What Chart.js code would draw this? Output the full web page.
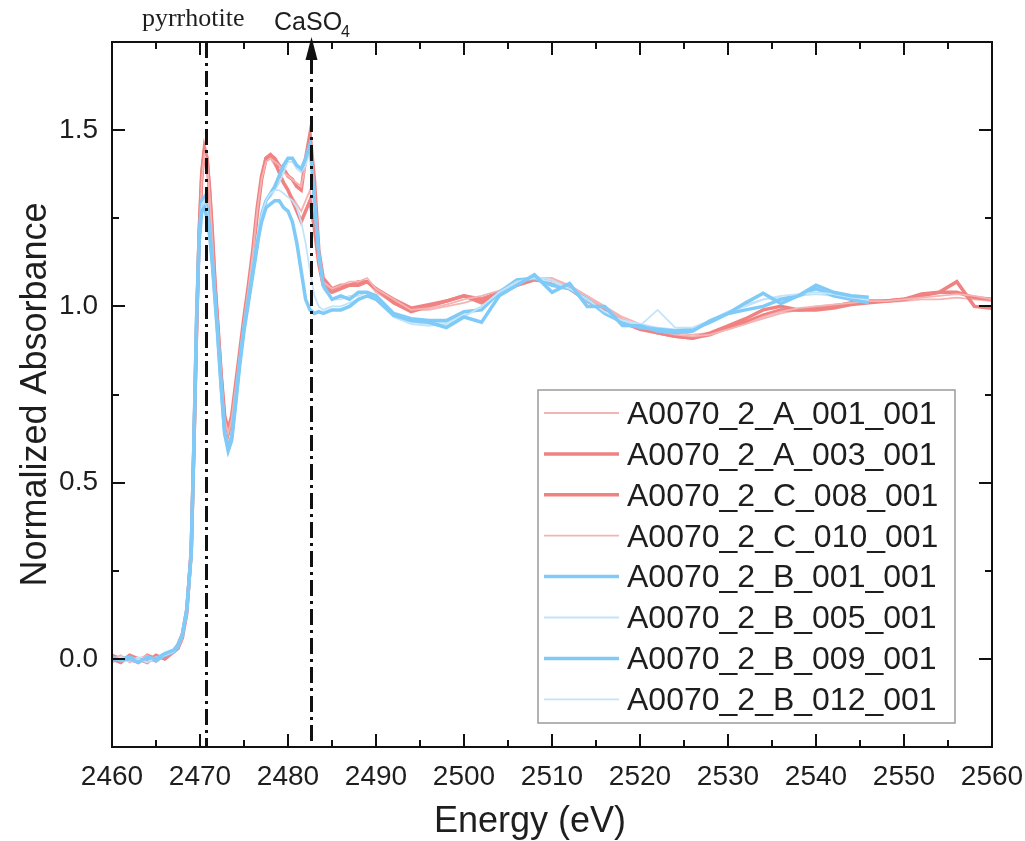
<!DOCTYPE html>
<html>
<head>
<meta charset="utf-8">
<script src="https://cdn.jsdelivr.net/npm/chart.js@4.4.1/dist/chart.umd.min.js"></script>
<style>
  html, body { margin: 0; padding: 0; background: #fff; }
  #wrap { width: 1025px; height: 841px; }
</style>
</head>
<body>
<div id="wrap"><canvas id="xanesChart" width="1025" height="841"></canvas></div>
<script>
// energy grid (eV), shared by all spectra
const energy = [
  2460, 2461, 2462, 2463, 2464, 2465, 2466, 2467, 2467.5, 2468, 2468.5, 2469,
  2469.3, 2469.6, 2469.9, 2470.2, 2470.5, 2470.8, 2471.1, 2471.4, 2471.7, 2472,
  2472.4, 2472.8, 2473.2, 2473.6, 2474, 2474.5, 2475, 2475.5, 2476, 2476.5,
  2477, 2477.5, 2478, 2478.5, 2479, 2479.5, 2480, 2480.5, 2481, 2481.5,
  2482, 2482.5, 2483, 2483.5, 2484, 2485, 2486, 2487, 2488, 2489,
  2490, 2492, 2494, 2496, 2498, 2500, 2502, 2504, 2506, 2508,
  2510, 2512, 2514, 2516, 2518, 2520, 2522, 2524, 2526, 2528,
  2530, 2532, 2534, 2536, 2538, 2540, 2542, 2544, 2546, 2548,
  2550, 2552, 2554, 2556, 2558, 2560
];

// normalized absorbance
const a001 = [
  0.00, 0.01, -0.01, 0.00, 0.01, -0.01, 0.01, 0.02, 0.03, 0.06, 0.13, 0.30,
  0.58, 0.91, 1.19, 1.36, 1.43, 1.41, 1.31, 1.19, 1.06, 0.95,
  0.80, 0.68, 0.64, 0.68, 0.76, 0.86, 0.96, 1.05, 1.15, 1.27,
  1.36, 1.41, 1.42, 1.41, 1.40, 1.38, 1.37, 1.36, 1.35, 1.34,
  1.40, 1.46, 1.34, 1.15, 1.07, 1.05, 1.06, 1.07, 1.07, 1.08,
  1.05, 1.02, 0.99, 0.995, 1.005, 1.02, 1.03, 1.045, 1.065, 1.08,
  1.08, 1.055, 1.025, 0.995, 0.965, 0.945, 0.93, 0.92, 0.915, 0.92,
  0.935, 0.95, 0.97, 0.985, 0.995, 1.0, 1.005, 1.01, 1.015, 1.015,
  1.02, 1.025, 1.03, 1.035, 1.03, 1.02
];
const a003 = [
  0.00, -0.01, 0.01, 0.00, -0.01, 0.01, 0.00, 0.02, 0.03, 0.06, 0.13, 0.31,
  0.60, 0.93, 1.21, 1.38, 1.45, 1.42, 1.32, 1.20, 1.06, 0.95,
  0.80, 0.68, 0.64, 0.68, 0.75, 0.85, 0.95, 1.04, 1.14, 1.26,
  1.36, 1.42, 1.43, 1.42, 1.40, 1.39, 1.37, 1.36, 1.34, 1.33,
  1.42, 1.49, 1.36, 1.16, 1.08, 1.05, 1.06, 1.06, 1.07, 1.07,
  1.05, 1.02, 0.995, 1.005, 1.015, 1.03, 1.02, 1.04, 1.06, 1.08,
  1.075, 1.05, 1.02, 0.99, 0.96, 0.94, 0.925, 0.915, 0.91, 0.92,
  0.94, 0.955, 0.975, 0.99, 0.99, 0.995, 1.0, 1.01, 1.015, 1.015,
  1.02, 1.035, 1.04, 1.07, 1.0, 0.995
];
const c008 = [
  0.01, 0.00, 0.00, -0.01, 0.01, 0.00, 0.01, 0.02, 0.04, 0.07, 0.14, 0.30,
  0.59, 0.92, 1.20, 1.37, 1.44, 1.42, 1.33, 1.21, 1.07, 0.96,
  0.81, 0.69, 0.65, 0.69, 0.77, 0.87, 0.97, 1.06, 1.16, 1.28,
  1.37, 1.42, 1.43, 1.41, 1.38, 1.35, 1.33, 1.30, 1.27, 1.24,
  1.27, 1.30, 1.22, 1.12, 1.06, 1.04, 1.05, 1.06, 1.06, 1.07,
  1.05, 1.01, 0.985, 1.0, 1.015, 1.03, 1.01, 1.035, 1.06, 1.075,
  1.07, 1.05, 1.015, 0.985, 0.955, 0.935, 0.925, 0.915, 0.91, 0.925,
  0.945, 0.965, 0.99, 1.0, 0.99, 0.99, 0.995, 1.005, 1.01, 1.015,
  1.02, 1.03, 1.04, 1.04, 1.025, 1.02
];
const c010 = [
  -0.01, 0.00, 0.01, 0.00, 0.00, 0.01, 0.00, 0.02, 0.03, 0.06, 0.12, 0.29,
  0.57, 0.90, 1.18, 1.35, 1.42, 1.40, 1.31, 1.19, 1.05, 0.94,
  0.79, 0.67, 0.63, 0.67, 0.75, 0.86, 0.96, 1.05, 1.15, 1.27,
  1.36, 1.41, 1.42, 1.40, 1.38, 1.35, 1.33, 1.31, 1.29, 1.27,
  1.30, 1.33, 1.24, 1.13, 1.07, 1.05, 1.05, 1.06, 1.07, 1.07,
  1.04, 1.01, 0.99, 0.99, 1.0, 1.01, 1.025, 1.04, 1.06, 1.075,
  1.08, 1.06, 1.03, 1.0, 0.97, 0.95, 0.935, 0.925, 0.92, 0.925,
  0.935, 0.95, 0.965, 0.98, 0.99, 1.0, 1.005, 1.01, 1.01, 1.012,
  1.015, 1.02, 1.02, 1.025, 1.02, 1.015
];
const b001 = [
  0.005, -0.005, 0.00, -0.01, 0.005, 0.00, 0.015, 0.025, 0.04, 0.07, 0.14, 0.30,
  0.60, 0.95, 1.18, 1.27, 1.28, 1.25, 1.20, 1.12, 1.02, 0.92,
  0.77, 0.64, 0.60, 0.63, 0.72, 0.84, 0.94, 1.02, 1.10, 1.18,
  1.24, 1.28, 1.29, 1.30, 1.30, 1.28, 1.27, 1.24, 1.18, 1.10,
  1.02, 0.99, 0.98, 0.985, 0.98, 0.99, 0.99, 1.0, 1.02, 1.03,
  1.02, 0.975, 0.96, 0.955, 0.94, 0.97, 0.955, 1.03, 1.06, 1.09,
  1.04, 1.065, 1.0, 1.0, 0.946, 0.945, 0.93, 0.925, 0.93, 0.96,
  0.98, 1.01, 1.037, 1.008, 1.03, 1.06, 1.04, 1.03, 1.026
];
const b005 = [
  0.00, 0.005, -0.005, 0.00, -0.01, 0.005, 0.01, 0.02, 0.04, 0.07, 0.14, 0.31,
  0.61, 0.96, 1.19, 1.29, 1.30, 1.27, 1.21, 1.13, 1.03, 0.93,
  0.78, 0.65, 0.61, 0.64, 0.73, 0.85, 0.95, 1.03, 1.12, 1.20,
  1.26, 1.30, 1.32, 1.33, 1.33, 1.32, 1.31, 1.30, 1.28, 1.24,
  1.18, 1.10, 1.03, 1.0, 0.99, 1.0, 1.0, 1.01, 1.02, 1.03,
  1.02, 0.97, 0.95, 0.945, 0.95, 0.97, 1.0, 1.04, 1.07, 1.08,
  1.07, 1.05, 1.02, 0.985, 0.96, 0.945, 0.99, 0.94, 0.94, 0.96,
  0.985, 1.0, 1.02, 1.03, 1.035, 1.04, 1.035, 1.025, 1.02
];
const b009 = [
  0.00, 0.00, 0.005, -0.005, 0.00, -0.005, 0.01, 0.02, 0.035, 0.07, 0.14, 0.30,
  0.61, 0.96, 1.20, 1.30, 1.31, 1.28, 1.22, 1.13, 1.03, 0.93,
  0.78, 0.64, 0.59, 0.62, 0.71, 0.83, 0.93, 1.01, 1.09, 1.17,
  1.26, 1.30, 1.32, 1.34, 1.37, 1.40, 1.42, 1.42, 1.40, 1.39,
  1.42, 1.46, 1.30, 1.15, 1.06, 1.02, 1.03, 1.02, 1.04, 1.04,
  1.03, 0.98, 0.965, 0.96, 0.96, 0.985, 0.99, 1.04, 1.075, 1.08,
  1.06, 1.05, 1.02, 0.98, 0.955, 0.94, 0.935, 0.93, 0.935, 0.955,
  0.98, 0.99, 1.0, 1.02, 1.03, 1.05, 1.03, 1.02, 1.01
];
const b012 = [
  0.005, 0.00, -0.005, 0.005, 0.00, 0.00, 0.01, 0.02, 0.04, 0.07, 0.13, 0.29,
  0.59, 0.94, 1.18, 1.28, 1.29, 1.26, 1.21, 1.13, 1.03, 0.93,
  0.78, 0.65, 0.60, 0.63, 0.72, 0.84, 0.94, 1.02, 1.11, 1.19,
  1.26, 1.30, 1.31, 1.33, 1.35, 1.38, 1.41, 1.41, 1.39, 1.38,
  1.40, 1.44, 1.28, 1.13, 1.05, 1.02, 1.02, 1.03, 1.03, 1.04,
  1.02, 0.97, 0.955, 0.95, 0.955, 0.975, 1.0, 1.035, 1.065, 1.085,
  1.075, 1.05, 1.015, 0.98, 0.96, 0.95, 0.94, 0.935, 0.94, 0.96,
  0.985, 1.005, 1.02, 1.025, 1.03, 1.035, 1.03, 1.02, 1.015
];

const seriesNames = ['A0070_2_A_001_001', 'A0070_2_A_003_001', 'A0070_2_C_008_001', 'A0070_2_C_010_001',
                     'A0070_2_B_001_001', 'A0070_2_B_005_001', 'A0070_2_B_009_001', 'A0070_2_B_012_001'];
const seriesValues = [a001, a003, c008, c010, b001, b005, b009, b012];

const xTicks = [2460, 2470, 2480, 2490, 2500, 2510, 2520, 2530, 2540, 2550, 2560];
const yTicks = [0.0, 0.5, 1.0, 1.5];
const refLines = [
  { energy: 2470.7, label: 'pyrrhotite' },
  { energy: 2482.6, label: 'CaSO' }
];

// colours / widths per series
const redThick = '#f08282', redThin = '#f5b4b4';
const blueThick = '#80caf8', blueThin = '#c2e4fb';
const lineColors = [redThin, redThick, redThick, redThin, blueThick, blueThin, blueThick, blueThin];
const lineWidths = [1.8, 3.5, 3.5, 1.8, 3.5, 1.8, 3.5, 1.8];

const datasets = seriesValues.map((vals, i) => ({
  label: seriesNames[i],
  data: vals.map((v, j) => ({ x: energy[j], y: v })),
  borderColor: lineColors[i],
  borderWidth: lineWidths[i],
  pointRadius: 0,
  tension: 0,
  fill: false,
  order: i < 4 ? 2 : 1 // blue curves on top
}));

const txt = '#1e1e1e';

// frame, inward ticks, reference lines, labels and legend
const decorPlugin = {
  id: 'decor',
  afterDatasetsDraw(chart) {
    const { ctx, chartArea: ca, scales: { x, y } } = chart;
    ctx.save();

    // dash-dot reference lines
    ctx.strokeStyle = '#111';
    ctx.lineWidth = 3;
    ctx.setLineDash([16, 5, 3, 5]);
    refLines.forEach(r => {
      const px = Math.round(x.getPixelForValue(r.energy)) + 0.5;
      ctx.beginPath();
      ctx.moveTo(px, ca.top + (r.label === 'CaSO' ? 16 : 0));
      ctx.lineTo(px, ca.bottom);
      ctx.stroke();
    });
    ctx.setLineDash([]);

    // arrow head on CaSO4 line
    const ax = Math.round(x.getPixelForValue(refLines[1].energy)) + 0.5;
    ctx.fillStyle = '#111';
    ctx.beginPath();
    ctx.moveTo(ax, ca.top - 5);
    ctx.lineTo(ax - 6, ca.top + 18);
    ctx.lineTo(ax + 6, ca.top + 18);
    ctx.closePath();
    ctx.fill();

    // frame
    ctx.strokeStyle = '#111';
    ctx.lineWidth = 2;
    ctx.strokeRect(ca.left, ca.top, ca.right - ca.left, ca.bottom - ca.top);

    // x ticks (major every 10, minor every 5), bottom and top
    for (let e = 2460; e <= 2560; e += 5) {
      const px = Math.round(x.getPixelForValue(e));
      const len = (e % 10 === 0) ? 13 : 7;
      ctx.beginPath();
      ctx.moveTo(px, ca.bottom); ctx.lineTo(px, ca.bottom - len);
      ctx.moveTo(px, ca.top); ctx.lineTo(px, ca.top + len);
      ctx.stroke();
    }
    // y ticks (major every 0.5, minor every 0.25), left and right
    for (let k = -1; k <= 7; k++) {
      const v = k * 0.25;
      const py = Math.round(y.getPixelForValue(v));
      const len = (k % 2 === 0) ? 13 : 7;
      ctx.beginPath();
      ctx.moveTo(ca.left, py); ctx.lineTo(ca.left + len, py);
      ctx.moveTo(ca.right, py); ctx.lineTo(ca.right - len, py);
      ctx.stroke();
    }

    // top labels
    ctx.fillStyle = txt;
    ctx.textBaseline = 'alphabetic';
    ctx.textAlign = 'center';
    ctx.font = '26px "Liberation Serif", "Times New Roman", serif';
    ctx.fillText(refLines[0].label, x.getPixelForValue(refLines[0].energy) - 13, 26);
    ctx.font = '25px "Liberation Sans", Arial, sans-serif';
    ctx.textAlign = 'left';
    ctx.fillText('CaSO', 274, 30);
    ctx.font = '16px "Liberation Sans", Arial, sans-serif';
    ctx.fillText('4', 341, 37);

    // x axis title
    ctx.font = '36px "Liberation Sans", Arial, sans-serif';
    ctx.textAlign = 'center';
    ctx.textBaseline = 'middle';
    ctx.fillText('Energy (eV)', 530, 822);

    // legend
    const lx = 538, ly = 390, lw = 417, lh = 333;
    ctx.fillStyle = '#fff';
    ctx.fillRect(lx, ly, lw, lh);
    ctx.strokeStyle = '#9a9a9a';
    ctx.lineWidth = 1.5;
    ctx.strokeRect(lx, ly, lw, lh);
    ctx.font = '32px "Liberation Sans", Arial, sans-serif';
    ctx.textAlign = 'left';
    ctx.textBaseline = 'middle';
    chart.data.datasets.forEach((ds, i) => {
      const cy = 413 + i * 40.9;
      ctx.strokeStyle = ds.borderColor;
      ctx.lineWidth = ds.borderWidth;
      ctx.beginPath();
      ctx.moveTo(544, cy); ctx.lineTo(619, cy);
      ctx.stroke();
      ctx.fillStyle = txt;
      ctx.fillText(ds.label, 627, cy + 2);
    });

    ctx.restore();
  }
};

const ctx = document.getElementById('xanesChart').getContext('2d');
const xanesChart = new Chart(ctx, {
  type: 'line',
  data: { datasets: datasets },
  options: {
    responsive: false,
    animation: false,
    devicePixelRatio: 1,
    layout: { padding: { top: 42, right: 33, left: 0, bottom: 0 } },
    plugins: {
      legend: { display: false },
      tooltip: { enabled: false }
    },
    scales: {
      x: {
        type: 'linear',
        min: 2460,
        max: 2560,
        grid: { display: false, drawTicks: false },
        border: { display: false },
        afterBuildTicks: s => { s.ticks = xTicks.map(v => ({ value: v })); },
        afterFit: s => { s.height = 94; s.paddingLeft = 0; s.paddingRight = 0; },
        ticks: {
          color: txt,
          padding: 13,
          maxRotation: 0,
          autoSkip: false,
          font: { family: '"Liberation Sans", Arial, sans-serif', size: 28 },
          callback: v => String(v)
        }
      },
      y: {
        min: -0.25,
        max: 1.75,
        grid: { display: false, drawTicks: false },
        border: { display: false },
        afterBuildTicks: s => { s.ticks = yTicks.map(v => ({ value: v })); },
        afterFit: s => { s.width = 112; s.paddingTop = 0; s.paddingBottom = 0; },
        title: {
          display: true,
          text: 'Normalized Absorbance',
          color: txt,
          padding: { top: 14, bottom: 0 },
          font: { family: '"Liberation Sans", Arial, sans-serif', size: 36, lineHeight: 1.2 }
        },
        ticks: {
          color: txt,
          padding: 14,
          font: { family: '"Liberation Sans", Arial, sans-serif', size: 28 },
          callback: v => v.toFixed(1)
        }
      }
    }
  },
  plugins: [decorPlugin]
});
</script>
</body>
</html>
